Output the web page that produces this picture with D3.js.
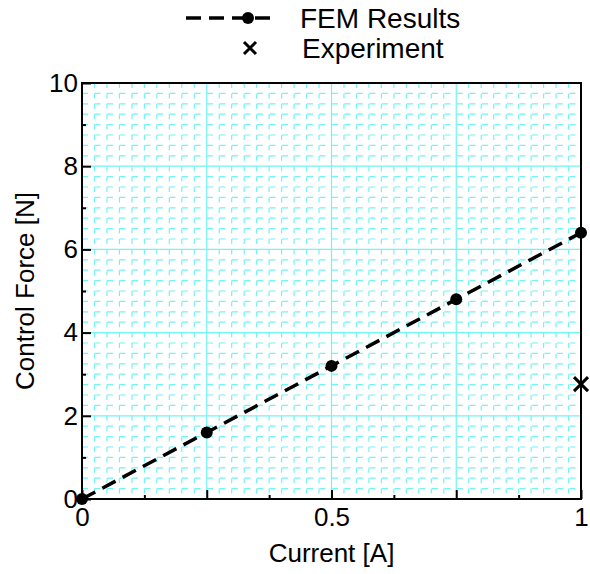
<!DOCTYPE html>
<html>
<head>
<meta charset="utf-8">
<script src="https://cdn.jsdelivr.net/npm/d3@7"></script>
<style>
  html, body { margin: 0; padding: 0; background: #fff; }
  svg text { font-family: "Liberation Sans", Arial, sans-serif; fill: #000; }
</style>
</head>
<body>
<svg id="chart" width="590" height="574"></svg>
<script>
// FEM simulation results: control force versus coil current
const femCurrent = [0, 0.25, 0.5, 0.75, 1];
const femForce   = [0, 1.6, 3.2, 4.8, 6.4];
// Measured point
const expCurrent = [1];
const expForce   = [2.76];

const xTickLabels = [0, 0.5, 1];
const yTickLabels = [0, 2, 4, 6, 8, 10];

const svg = d3.select("#chart");
const margin = { left: 82, right: 9, top: 83, bottom: 75 };
const W = 590, H = 574;
const FS = 26;

const x = d3.scaleLinear().domain([0, 1]).range([margin.left, W - margin.right]);
const y = d3.scaleLinear().domain([0, 10]).range([H - margin.bottom, margin.top]);

const gridColor = "#70f4f4";

// minor grid (dashed)
const minorX = d3.range(0, 1.0001, 0.025).filter(v => Math.abs(v / 0.25 - Math.round(v / 0.25)) > 1e-6);
const minorY = d3.range(0, 10.0001, 0.25).filter(v => Math.abs(v / 2 - Math.round(v / 2)) > 1e-6);

const grid = svg.append("g");
grid.selectAll("line.mx").data(minorX).join("line")
  .attr("x1", d => x(d)).attr("x2", d => x(d))
  .attr("y1", y(10)).attr("y2", y(0))
  .attr("stroke", gridColor).attr("stroke-width", 1.2)
  .attr("stroke-dasharray", "5,5.4");
grid.selectAll("line.my").data(minorY).join("line")
  .attr("x1", x(0)).attr("x2", x(1))
  .attr("y1", d => y(d)).attr("y2", d => y(d))
  .attr("stroke", gridColor).attr("stroke-width", 1.2)
  .attr("stroke-dasharray", "6,6.5");

// major grid (solid)
grid.selectAll("line.Mx").data(d3.range(0.25, 1, 0.25)).join("line")
  .attr("x1", d => x(d)).attr("x2", d => x(d))
  .attr("y1", y(10)).attr("y2", y(0))
  .attr("stroke", gridColor).attr("stroke-width", 1.2);
grid.selectAll("line.My").data(d3.range(2, 10, 2)).join("line")
  .attr("x1", x(0)).attr("x2", x(1))
  .attr("y1", d => y(d)).attr("y2", d => y(d))
  .attr("stroke", gridColor).attr("stroke-width", 1.2);

// frame
svg.append("rect")
  .attr("x", x(0)).attr("y", y(10))
  .attr("width", x(1) - x(0)).attr("height", y(0) - y(10))
  .attr("fill", "none").attr("stroke", "#000").attr("stroke-width", 2);

// axes with inward ticks
const xAxisMajor = d3.axisBottom(x).tickValues(d3.range(0, 1.0001, 0.25))
  .tickSizeInner(-9).tickSizeOuter(0)
  .tickFormat(d => xTickLabels.includes(+d.toFixed(3)) ? d3.format("~g")(d) : "");
const xAxisMinor = d3.axisBottom(x).tickValues(d3.range(0.125, 1, 0.25))
  .tickSizeInner(-4).tickSizeOuter(0).tickFormat("");
const yAxisMajor = d3.axisLeft(y).tickValues(yTickLabels)
  .tickSizeInner(-9).tickSizeOuter(0).tickFormat(d3.format("~g"));
const yAxisMinor = d3.axisLeft(y).tickValues(d3.range(1, 10, 2))
  .tickSizeInner(-4).tickSizeOuter(0).tickFormat("");

function styleAxis(g) {
  g.select(".domain").remove();
  g.selectAll(".tick line").attr("stroke", "#000").attr("stroke-width", 2);
  g.selectAll(".tick text").attr("font-size", FS).attr("fill", "#000")
    .style("font-family", "'Liberation Sans', Arial, sans-serif");
}

svg.append("g").attr("transform", `translate(0,${y(0)})`).call(xAxisMajor).call(styleAxis)
  .selectAll(".tick text").attr("dy", "0.71em").attr("y", 9);
svg.append("g").attr("transform", `translate(0,${y(0)})`).call(xAxisMinor).call(styleAxis);
svg.append("g").attr("transform", `translate(${x(0)},0)`).call(yAxisMajor).call(styleAxis)
  .selectAll(".tick text").attr("x", -4);
svg.append("g").attr("transform", `translate(${x(0)},0)`).call(yAxisMinor).call(styleAxis);

// axis titles
svg.append("text").attr("x", (x(0) + x(1)) / 2).attr("y", 562)
  .attr("text-anchor", "middle").attr("font-size", FS).text("Current [A]");
svg.append("text")
  .attr("transform", `translate(34,${(y(0) + y(10)) / 2}) rotate(-90)`)
  .attr("text-anchor", "middle").attr("font-size", FS).text("Control Force [N]");

// FEM line and markers
const fem = femCurrent.map((c, i) => [c, femForce[i]]);
svg.append("path").datum(fem)
  .attr("d", d3.line().x(d => x(d[0])).y(d => y(d[1])))
  .attr("fill", "none").attr("stroke", "#000").attr("stroke-width", 3.5)
  .attr("stroke-dasharray", "15,8");
svg.selectAll("circle.fem").data(fem).join("circle")
  .attr("cx", d => x(d[0])).attr("cy", d => y(d[1])).attr("r", 6).attr("fill", "#000");

// experiment marker
const exp = expCurrent.map((c, i) => [c, expForce[i]]);
const crossSize = 7;
const expG = svg.selectAll("g.exp").data(exp).join("g")
  .attr("transform", d => `translate(${x(d[0])},${y(d[1])})`);
expG.append("path")
  .attr("d", `M${-crossSize},${-crossSize}L${crossSize},${crossSize}M${-crossSize},${crossSize}L${crossSize},${-crossSize}`)
  .attr("stroke", "#000").attr("stroke-width", 3);

// legend
const leg = svg.append("g");
leg.append("line").attr("x1", 186).attr("x2", 272).attr("y1", 18).attr("y2", 18)
  .attr("stroke", "#000").attr("stroke-width", 3.5).attr("stroke-dasharray", "15,8");
leg.append("circle").attr("cx", 248).attr("cy", 18).attr("r", 6).attr("fill", "#000");
leg.append("text").attr("x", 300).attr("y", 28).attr("font-size", 28).text("FEM Results");
leg.append("path")
  .attr("d", `M${250 - 6},${48 - 6}L${250 + 6},${48 + 6}M${250 - 6},${48 + 6}L${250 + 6},${48 - 6}`)
  .attr("stroke", "#000").attr("stroke-width", 3);
leg.append("text").attr("x", 302).attr("y", 58).attr("font-size", 28).text("Experiment");
</script>
</body>
</html>
